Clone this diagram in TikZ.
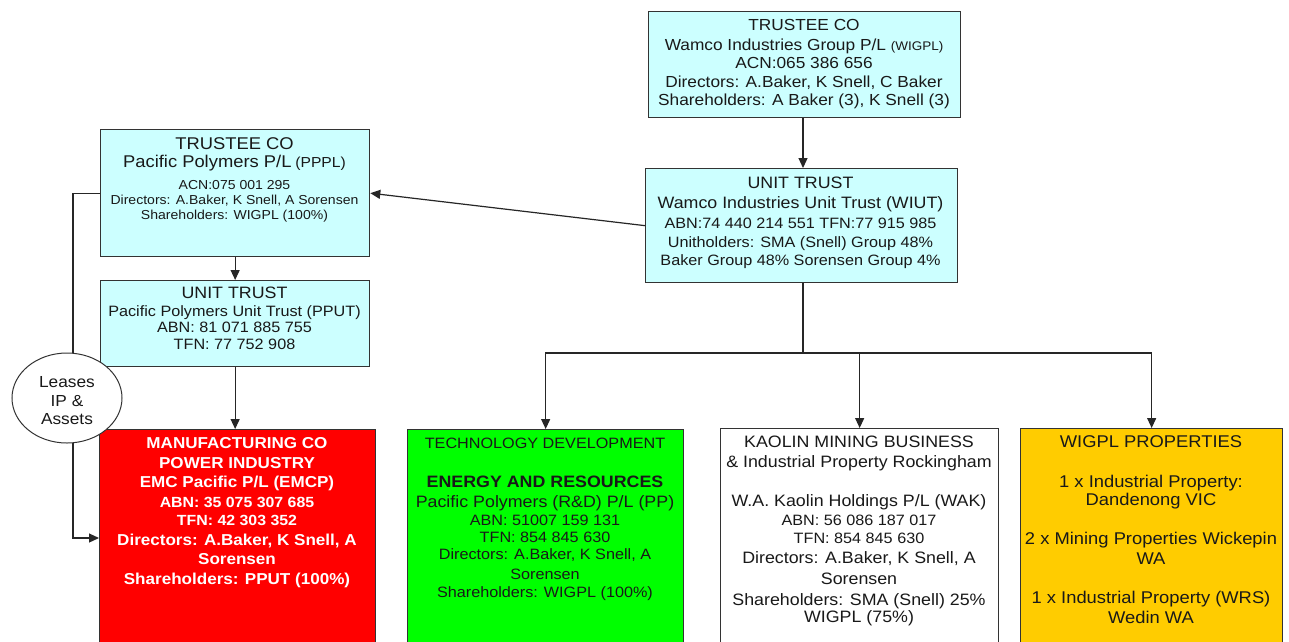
\documentclass[tikz,border=0pt]{standalone}
\usepackage{fontspec}
\setmainfont[FakeStretch=1.08]{Liberation Sans}
\usetikzlibrary{arrows.meta,shapes.geometric}
\definecolor{cyanbox}{HTML}{CCFFFF}
\definecolor{redbox}{HTML}{FF0000}
\definecolor{greenbox}{HTML}{00FF00}
\definecolor{yellowbox}{HTML}{FFCC00}
\definecolor{edge}{HTML}{333333}
\newcommand\fsz[2]{\fontsize{#1}{#2}\selectfont}
\begin{document}
\begin{tikzpicture}[x=1pt,y=-1pt,
  orgbox/.style={draw=edge,line width=1.3pt,anchor=north west,inner sep=0pt},
  txt/.style={anchor=north,align=center,inner sep=0pt,text=black!90},
  arr/.style={draw=black!85,line width=1.2pt,-{Triangle[width=9pt,length=10pt]}},
  ln/.style={draw=black!85,line width=1.2pt}]
\useasboundingbox (0,0) rectangle (1289,641);
\clip (0,0) rectangle (1289,641);
\fill[white] (0,0) rectangle (1289,641);
% boxes
\node[orgbox,fill=cyanbox,minimum width=312pt,minimum height=106pt] (wigpl) at (648,11) {};
\node[orgbox,fill=cyanbox,minimum width=312pt,minimum height=114pt] (wiut) at (645,168) {};
\node[orgbox,fill=cyanbox,minimum width=269pt,minimum height=127pt] (pppl) at (100,129) {};
\node[orgbox,fill=cyanbox,minimum width=269pt,minimum height=86pt] (pput) at (100,280) {};
\node[orgbox,fill=redbox,minimum width=276pt,minimum height=230pt] (emcp) at (99,429) {};
\node[orgbox,fill=greenbox,minimum width=276pt,minimum height=230pt] (pp) at (407,429) {};
\node[orgbox,fill=white,minimum width=278pt,minimum height=230pt] (wak) at (720,428) {};
\node[orgbox,fill=yellowbox,minimum width=262pt,minimum height=230pt] (wigprop) at (1020,428) {};
% connectors
\coordinate (split) at (803,353);
\coordinate (leasebend) at (73,538);
\draw[arr] (split |- wigpl.south) -- (split |- wiut.north);
\draw[arr] (wiut.west) -- (pppl.east);
\draw[arr] (pppl.south) -- (pput.north);
\draw[arr] (pput.south) -- (pput.south |- emcp.north);
\draw[ln] (split |- wiut.south) -- (split);
\draw[arr] (split) -| (pp.north);
\draw[arr] (split) -| (wak.north);
\draw[arr] (split) -| (wigprop.north);
\draw[arr] (pppl.west) -| (leasebend) -- (leasebend -| emcp.west);
% ellipse
\node[draw=edge,line width=1pt,fill=white,ellipse,minimum width=110pt,minimum height=90pt,inner sep=0pt] (leases) at (67,398) {};
\node[txt,font=\fsz{16}{18.5}] (leasesT) at (67,376.5) {Leases\\IP \&\\Assets};
% texts
\node[txt,font=\fsz{16}{18.5}] (wigplT) at (804,18.8) {TRUSTEE CO\\[1.5pt]Wamco Industries Group P/L {\fsz{12.5}{14}(WIGPL)}\\ACN:065 386 656\\Directors: A.Baker, K Snell, C Baker\\Shareholders: A Baker (3), K Snell (3)};
\node[txt,font=\fsz{13}{15}] (ppplT) at (234.5,137) {{\fsz{17}{18}TRUSTEE CO}\\[3pt]{\fsz{17}{18}Pacific Polymers P/L} {\fsz{14.5}{16}(PPPL)}\\[7pt]ACN:075 001 295\\Directors: A.Baker, K Snell, A Sorensen\\Shareholders: WIGPL (100\%)};
\node[txt,font=\fsz{15}{19}] (wiutT) at (800.5,177) {{\fsz{16.5}{19}UNIT TRUST}\\[1pt]{\fsz{16.5}{19}Wamco Industries Unit Trust (WIUT)}\\[1pt]ABN:74 440 214 551 TFN:77 915 985\\Unitholders: SMA (Snell) Group 48\%\\[-1pt]Baker Group 48\% Sorensen Group 4\%};
\node[txt,font=\fsz{15}{17}] (pputT) at (234.5,287) {{\fsz{16.5}{18}UNIT TRUST}\\[1pt]Pacific Polymers Unit Trust (PPUT)\\[-1pt]ABN: 81 071 885 755\\TFN: 77 752 908};
\node[txt,text=white,font=\bfseries\fsz{15.8}{19.5}] (emcpT) at (237,437.3) {MANUFACTURING CO\\POWER INDUSTRY\\EMC Pacific P/L (EMCP)\\{\fsz{14.7}{18}ABN: 35 075 307 685}\\[-1pt]{\fsz{14.7}{18}TFN: 42 303 352}\\Directors: A.Baker, K Snell, A\\Sorensen\\Shareholders: PPUT (100\%)};
\node[txt,font=\fsz{15}{18.5}] (ppT) at (545,437.6) {TECHNOLOGY DEVELOPMENT\\[20.5pt]{\bfseries\fsz{16.5}{18.5}ENERGY AND RESOURCES}\\[1.5pt]{\fsz{16.5}{18.5}Pacific Polymers (R\&D) P/L (PP)}\\ABN: 51007 159 131\\[-1.5pt]TFN: 854 845 630\\[-1.5pt]Directors: A.Baker, K Snell, A\\[1pt]Sorensen\\Shareholders: WIGPL (100\%)};
\node[txt,font=\fsz{16.5}{19.5}] (wakT) at (859,436) {KAOLIN MINING BUSINESS\\\& Industrial Property Rockingham\\[19.5pt]W.A. Kaolin Holdings P/L (WAK)\\{\fsz{15}{18}ABN: 56 086 187 017}\\[-1.5pt]{\fsz{15}{18}TFN: 854 845 630}\\Directors: A.Baker, K Snell, A\\[2pt]Sorensen\\[1.5pt]Shareholders: SMA (Snell) 25\%\\[-2.5pt]WIGPL (75\%)};
\node[txt,font=\fsz{17}{19}] (wigpropT) at (1151,435) {WIGPL PROPERTIES\\[21pt]1 x Industrial Property:\\[-1pt]Dandenong VIC\\[20pt]2 x Mining Properties Wickepin\\[1pt]WA\\[20pt]1 x Industrial Property (WRS)\\[1pt]Wedin WA};
\end{tikzpicture}
\end{document}
